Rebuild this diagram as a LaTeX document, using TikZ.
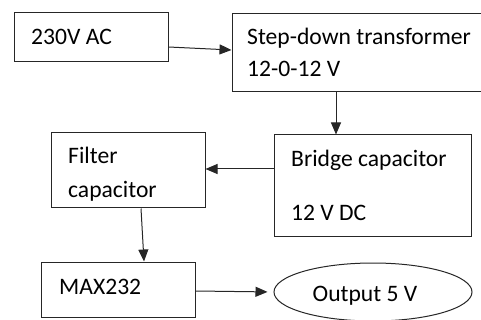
\documentclass[tikz,border=0pt]{standalone}
\usepackage{fontspec}
\setmainfont{Carlito}
\usetikzlibrary{arrows.meta,shapes.geometric}
\begin{document}
\begin{tikzpicture}[x=1pt,y=-1pt,
  blk/.style={draw=black!85,line width=1pt,rectangle,inner sep=0pt},
  oval/.style={draw=black!85,line width=1pt,ellipse,inner sep=0pt},
  txt/.style={anchor=base west,inner sep=0pt,font=\fontsize{23.6}{28}\selectfont},
  conn/.style={draw=black!85,line width=1pt,-{Triangle[length=12pt,width=10pt]}}]
\useasboundingbox (0,0) rectangle (481,320);
\clip (0,0) rectangle (481,320);
% boxes
\node[blk,minimum width=154pt,minimum height=49pt] (ac) at (91,37.5) {};
\node[blk,minimum width=253pt,minimum height=78pt] (step) at (358.5,53) {};
\node[blk,minimum width=197pt,minimum height=101pt] (bridge) at (372.5,185.5) {};
\node[blk,minimum width=154pt,minimum height=75pt] (filter) at (128,170.5) {};
\node[blk,minimum width=154pt,minimum height=55pt] (max) at (118,289.5) {};
\node[oval,minimum width=198pt,minimum height=58pt] (out) at (373,292) {};
% texts
\node[txt] (t1) at (31,45) {230V AC};
\node[txt] (t2) at (247,45) {Step-down transformer};
\node[txt] (t3) at (247,77) {12-0-12 V};
\node[txt] (t4) at (68,164) {Filter};
\node[txt] (t5) at (68,197) {capacitor};
\node[txt] (t6) at (291,167) {Bridge capacitor};
\node[txt] (t7) at (291,220) {12 V DC};
\node[txt] (t8) at (59,294) {MAX232};
\node[inner sep=0pt,anchor=base,font=\fontsize{23.6}{28}\selectfont] (t9) at (365,301) {Output 5 V};
% connectors
\draw[conn] ([yshift=-9.5pt]ac.east) -- ([yshift=3pt]step.west);
\draw[conn] ([xshift=-22.5pt]step.south) -- ([xshift=-36.5pt]bridge.north);
\draw[conn] ([yshift=16.5pt]bridge.west) -- ([yshift=1.5pt]filter.east);
\draw[conn] ([xshift=13pt]filter.south) -- ([xshift=26pt]max.north);
\draw[conn,shorten >=6pt] ([yshift=-1.5pt]max.east) -- (out.west);
\end{tikzpicture}
\end{document}
